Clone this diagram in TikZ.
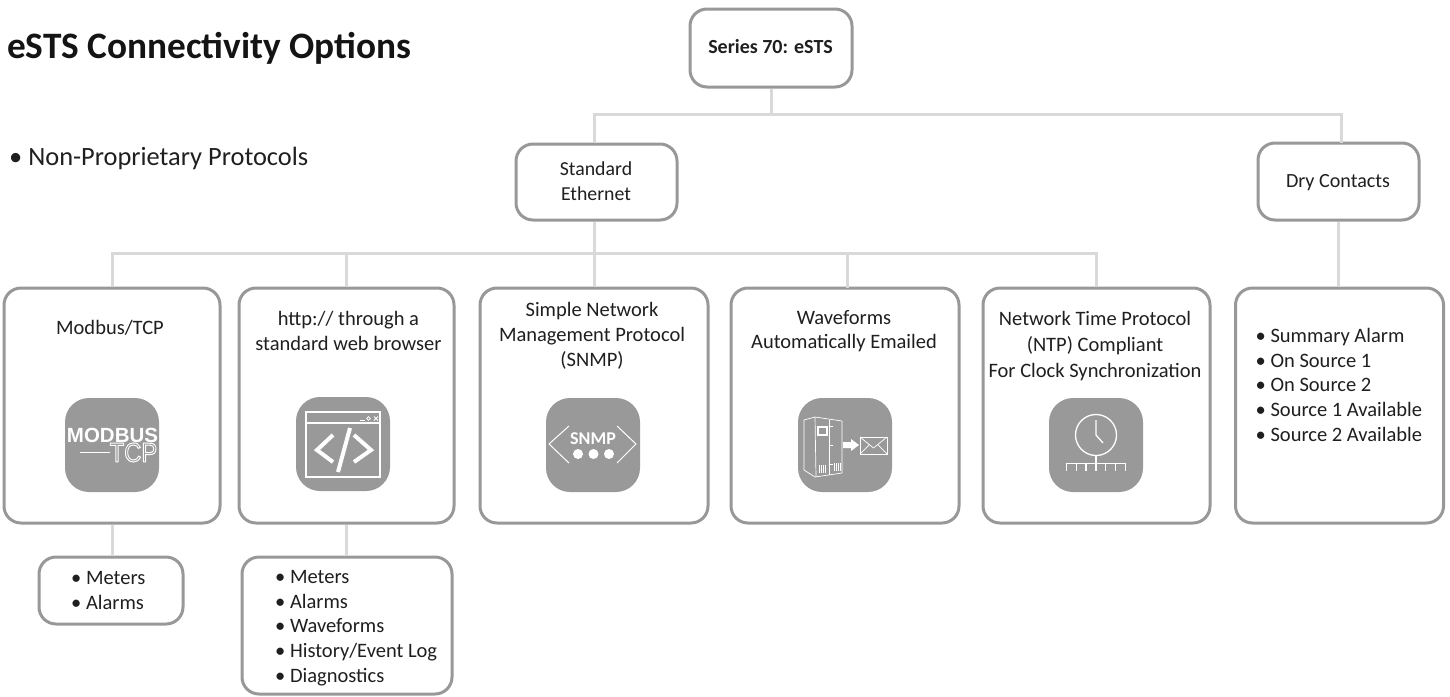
\documentclass[tikz,border=0pt]{standalone}
\usepackage{fontspec}
\setmainfont{Carlito}
\newfontfamily\iconfont{Liberation Sans}
\newcommand{\bodyfont}{\fontsize{20.5}{24.7}\selectfont}
\tikzset{
  x=1pt,y=-1pt,
  boxstyle/.style={draw=boxgray,line width=3pt,rounded corners=17pt,fill=white,inner sep=0pt,minimum width=#1},
  link/.style={draw=linkgray,line width=3pt},
  label/.style={inner sep=0pt,align=center,font=\bodyfont,text=black!88},
  listlabel/.style={inner sep=0pt,align=left,font=\bodyfont,text=black!88,anchor=north west},
  iconbg/.style={fill=icongray,rounded corners=24pt,minimum width=94pt,minimum height=94pt,inner sep=0pt},
  ink/.style={draw=white,line width=1pt},
}
\definecolor{boxgray}{HTML}{989898}
\definecolor{linkgray}{HTML}{D9D9D9}
\definecolor{icongray}{HTML}{999999}
\begin{document}
\begin{tikzpicture}
\useasboundingbox (0,0) rectangle (1450,696);
% boxes
\node[boxstyle=162pt,minimum height=78pt] (series) at (771,48) {};
\node[boxstyle=161pt,minimum height=76pt] (std) at (596.5,182) {};
\node[boxstyle=161pt,minimum height=77pt] (dry) at (1338.5,181.5) {};
\node[boxstyle=216pt,minimum height=235pt] (modbus) at (112,405.5) {};
\node[boxstyle=215pt,minimum height=235pt] (http) at (346.5,405.5) {};
\node[boxstyle=228pt,minimum height=235pt] (snmp) at (594,405.5) {};
\node[boxstyle=228pt,minimum height=235pt] (wave) at (845,405.5) {};
\node[boxstyle=227pt,minimum height=235pt] (ntp) at (1096.5,405.5) {};
\node[boxstyle=208pt,minimum height=235pt] (contacts) at (1339.5,405.5) {};
\node[boxstyle=144pt,minimum height=67pt] (mlist) at (111,590.5) {};
\node[boxstyle=210pt,minimum height=137pt] (hlist) at (347,625.5) {};
% connectors
\coordinate (busA) at (771,114);
\coordinate (busB) at (594.5,253);
\coordinate (waveDrop) at (847,288);
\coordinate (dryDrop) at (1341,143);
\draw[link] (series.south) -- (busA) -| (busB |- std.north);
\draw[link] (busA) -| (dryDrop);
\draw[link] (busB |- std.south) -- (busB) -| (modbus.north);
\draw[link] (busB) -| (http.north);
\draw[link] (busB) -- (busB |- snmp.north);
\draw[link] (busB) -| (waveDrop);
\draw[link] (busB) -| (ntp.north);
\draw[link] (dry.south) -- (dry.south |- contacts.north);
\draw[link] (modbus.south) -- (modbus.south |- mlist.north);
\draw[link] (http.south) -- (http.south |- hlist.north);
% texts
\node[anchor=base west,inner sep=0pt,font=\fontsize{37.3}{42}\selectfont\bfseries,text=black!92] (title) at (7,58) {eSTS Connectivity Options};
\node[anchor=base west,inner sep=0pt,font=\fontsize{26.4}{30}\selectfont,text=black!88] (sub) at (9,165) {• Non-Proprietary Protocols};
\node[label,font=\fontsize{20}{24}\selectfont\bfseries] (seriest) at (770.5,47) {Series 70: eSTS};
\node[label,font=\fontsize{19.8}{24.6}\selectfont] (stdt) at (596,181) {Standard\\Ethernet};
\node[label,font=\fontsize{20.1}{24.6}\selectfont] (dryt) at (1338,183) {Dry Contacts};
\node[label] (modbust) at (110,328) {Modbus/TCP};
\node[label] (httpt) at (348.5,331) {http:// through a\\standard web browser};
\node[label,font=\fontsize{20.5}{25}\selectfont] (snmpt) at (592,336) {Simple Network\\Management Protocol\\(SNMP)};
\node[label] (wavet) at (844,331) {Waveforms\\Automatically Emailed};
\node[label,font=\fontsize{20.5}{26}\selectfont] (ntpt) at (1095,346) {Network Time Protocol\\(NTP) Compliant\\For Clock Synchronization};
\node[listlabel] (contactst) at (1255.5,328) {• Summary Alarm\\• On Source 1\\• On Source 2\\• Source 1 Available\\• Source 2 Available};
\node[listlabel] (mlistt) at (71,571) {• Meters\\• Alarms};
\node[listlabel] (hlistt) at (275,570) {• Meters\\• Alarms\\• Waveforms\\• History/Event Log\\• Diagnostics};
% icon backgrounds
\node[iconbg] (i1) at (112,445) {};
\node[iconbg] (i2) at (343,444) {};
\node[iconbg] (i3) at (593,445) {};
\node[iconbg] (i4) at (845,445) {};
\node[iconbg] (i5) at (1096,445) {};
% modbus icon
\node[inner sep=0pt,text=white,font=\iconfont\bfseries\fontsize{20.5}{22}\selectfont] (mbtext) at (112.5,435) {MODBUS};
\node[inner sep=0pt,text=white,xscale=.88,font=\iconfont\fontsize{27}{28}\selectfont] (tcptext) at (133.5,452.5) {\special{pdf:code 1 Tr 1 w 1 1 1 RG}TCP\special{pdf:code 0 Tr}};
\draw[ink] (80,452) -- (110,452);
% browser icon
\draw[ink,line width=2pt] (306,412) rectangle (380,477);
\draw[ink,line width=2pt] (306,423) -- (380,423);
\draw[ink,line width=.8pt] (360,420) -- (365,420);
\draw[ink,line width=.7pt] (368.5,418.5) circle (1.8);
\draw[ink,line width=.8pt] (374,416.5) -- (378,420.5) (378,416.5) -- (374,420.5);
\draw[ink,line width=4pt] (333,435) -- (317,450) -- (333,462);
\draw[ink,line width=4pt] (354,435) -- (371,450) -- (354,462);
\draw[ink,line width=4pt] (350,428) -- (338,472);
% snmp icon
\draw[ink] (569,426) -- (549,444) -- (569,463);
\draw[ink] (617,426) -- (636,444) -- (617,463);
\node[inner sep=0pt,text=white,font=\fontsize{18}{19}\selectfont\bfseries] (snmpi) at (593,439) {SNMP};
\foreach \dx in {578,593.5,609} \fill[white] (\dx,454) circle (5);
% waveform icon
\draw[ink,line width=.7pt] (804,420) -- (815,417) -- (842,421) -- (842,473) -- (815,477) -- (804,470) -- cycle;
\draw[ink,line width=.7pt] (815,417) -- (816,477);
\draw[ink,line width=.7pt] (829,420) -- (829,475);
\draw[ink,line width=1.2pt] (818,427) rectangle (827,435);
\foreach \vx in {819,821,823,825} \draw[ink,line width=1pt] (\vx,465) -- (\vx,473);
\foreach \vx in {834,836,838,840} \draw[ink,line width=1pt] (\vx,463) -- (\vx,471);
\draw[ink,line width=.8pt] (829,426) -- (833,426) (829,445) -- (833,445) (829,464) -- (833,464);
\fill[white] (843,442) -- (851,442) -- (851,439) -- (859,445) -- (851,451) -- (851,448) -- (843,448) -- cycle;
\draw[ink,line width=.7pt] (860,437) rectangle (887,454);
\draw[ink,line width=.7pt] (860,437) -- (873.5,448) -- (887,437) (860,454) -- (869,445) (887,454) -- (878,445);
% ntp icon
\draw[ink,line width=1.3pt] (1096,435) circle (20.5);
\draw[ink,line width=1.3pt] (1096,420) -- (1096,435) -- (1103,443);
\draw[ink,line width=1.3pt] (1096,455.5) -- (1096,463);
\draw[ink,line width=1.3pt] (1066,463.5) -- (1126,463.5);
\foreach \tx in {1066.5,1076.3,1086.1,1095.9,1105.7,1115.5,1125.3} \draw[ink,line width=1.3pt] (\tx,463.5) -- (\tx,471);
\end{tikzpicture}
\end{document}
